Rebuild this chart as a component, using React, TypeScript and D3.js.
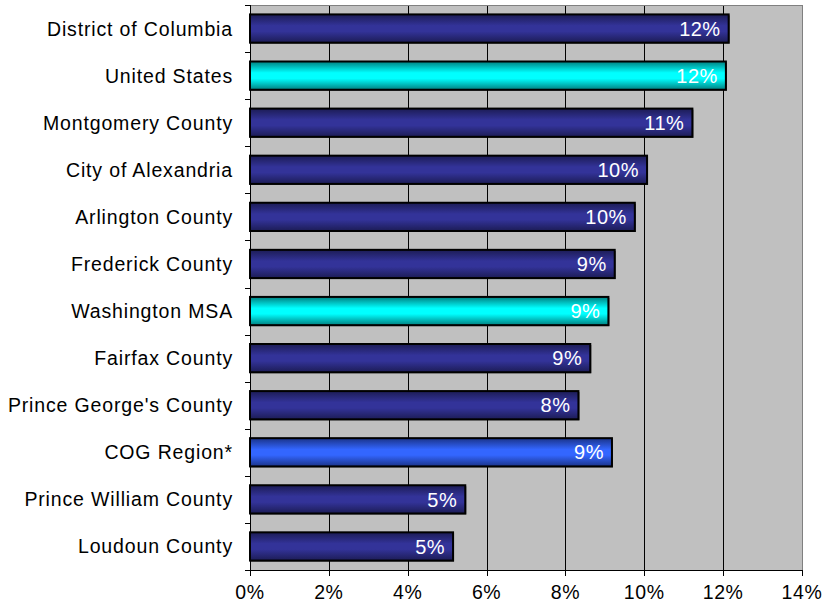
import React from "react";
import * as d3 from "d3";

const categories = [
  "District of Columbia",
  "United States",
  "Montgomery County",
  "City of Alexandria",
  "Arlington County",
  "Frederick County",
  "Washington MSA",
  "Fairfax County",
  "Prince George's County",
  "COG Region*",
  "Prince William County",
  "Loudoun County",
];
const values = [12.14, 12.07, 11.22, 10.07, 9.76, 9.25, 9.09, 8.63, 8.33, 9.18, 5.46, 5.15];
const valueLabels = ["12%", "12%", "11%", "10%", "10%", "9%", "9%", "9%", "8%", "9%", "5%", "5%"];
const kinds = ["county", "us", "county", "county", "county", "county", "msa", "county", "county", "cog", "county", "county"];
const xTicks = [0, 2, 4, 6, 8, 10, 12, 14];
const xTickLabels = ["0%", "2%", "4%", "6%", "8%", "10%", "12%", "14%"];

const W = 824;
const H = 606;
const left = 250;
const right = 802;
const top = 5;
const bottom = 570;
const FONT = "'Liberation Sans', Arial, sans-serif";

const gradients: Record<string, [string, string]> = {
  county: ["#1c1c55", "#333399"],
  us: ["#007f7f", "#00ffff"],
  msa: ["#007f7f", "#00ffff"],
  cog: ["#1a3388", "#3366ff"],
};

export default function App() {
  const x = d3.scaleLinear().domain([0, 14]).range([left, right]);
  const y = d3.scaleBand<string>().domain(categories).range([top, bottom]).paddingInner(0.4).paddingOuter(0.2);
  const bw = y.bandwidth();
  const step = y.step();
  const boundaries = d3.range(categories.length + 1).map((i) => top + i * step);

  return (
    <div style={{ position: "fixed", left: 0, top: 0 }}>
      <svg width={W} height={H} style={{ display: "block", background: "#fff" }}>
        <defs>
          {Object.entries(gradients).map(([k, [edge, mid]]) => (
            <linearGradient key={k} id={`g-${k}`} x1="0" y1="0" x2="0" y2="1">
              <stop offset="0%" stopColor={edge} />
              <stop offset="40%" stopColor={mid} />
              <stop offset="60%" stopColor={mid} />
              <stop offset="100%" stopColor={edge} />
            </linearGradient>
          ))}
        </defs>
        <rect x={left} y={top} width={right - left} height={bottom - top} fill="#c0c0c0" />
        {xTicks.slice(1, -1).map((t) => (
          <line key={t} x1={Math.round(x(t)) + 0.5} x2={Math.round(x(t)) + 0.5} y1={top} y2={bottom} stroke="#000" strokeWidth={1} />
        ))}
        <line x1={left} x2={right + 0.5} y1={top + 0.5} y2={top + 0.5} stroke="#808080" strokeWidth={1} />
        <line x1={right + 0.5} x2={right + 0.5} y1={top} y2={bottom} stroke="#808080" strokeWidth={1} />
        {categories.map((c, i) => {
          const y0 = y(c)!;
          const x1 = x(values[i]);
          return (
            <g key={c}>
              <rect x={left + 1} y={y0 + 1} width={x1 - left} height={bw} fill="#000" opacity={0.6} />
              <rect x={left} y={y0} width={x1 - left} height={bw} fill={`url(#g-${kinds[i]})`} stroke="#000" strokeWidth={2} />
              <text x={x1 - 8} y={y0 + bw / 2} dy="0.36em" textAnchor="end" fill="#fff" fontFamily={FONT} fontSize={20} letterSpacing={0.5}>
                {valueLabels[i]}
              </text>
              <text x={233} y={y0 + bw / 2} dy="0.36em" textAnchor="end" fill="#000" fontFamily={FONT} fontSize={19.5} letterSpacing={0.85}>
                {c}
              </text>
            </g>
          );
        })}
        <line x1={left + 0.5} x2={left + 0.5} y1={top} y2={bottom} stroke="#000" strokeWidth={1} />
        {boundaries.map((b, i) => (
          <line key={i} x1={left - 5} x2={left} y1={Math.round(b) + 0.5} y2={Math.round(b) + 0.5} stroke="#000" strokeWidth={1} />
        ))}
        <line x1={left} x2={right + 1} y1={bottom + 0.5} y2={bottom + 0.5} stroke="#000" strokeWidth={1} />
        {xTicks.map((t, i) => (
          <g key={t}>
            <line x1={Math.round(x(t)) + 0.5} x2={Math.round(x(t)) + 0.5} y1={bottom} y2={bottom + 6} stroke="#000" strokeWidth={1} />
            <text x={x(t)} y={592} dy="0.36em" textAnchor="middle" fontFamily={FONT} fontSize={19.5} letterSpacing={0.6} fill="#000">
              {xTickLabels[i]}
            </text>
          </g>
        ))}
      </svg>
    </div>
  );
}
